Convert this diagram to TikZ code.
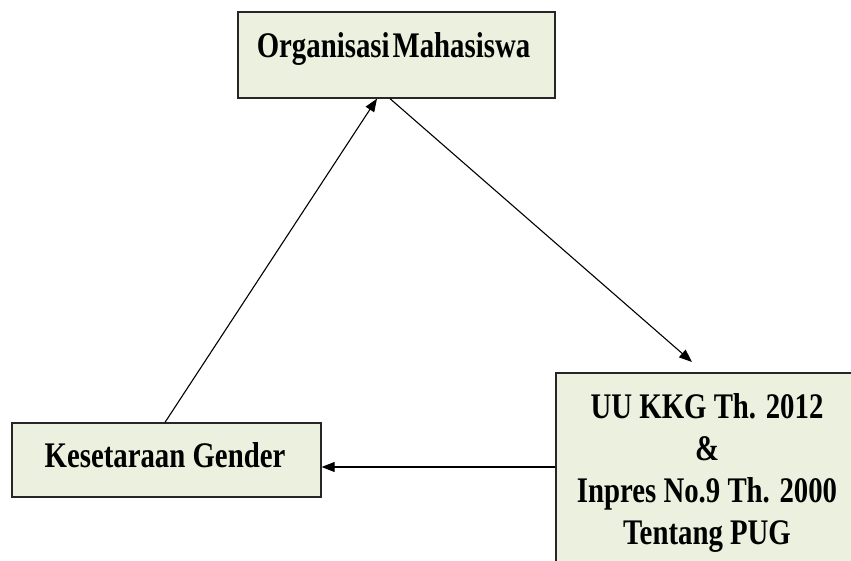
\documentclass[tikz,border=0pt]{standalone}
\usepackage{fontspec}
\newfontfamily\bt{Liberation Serif}[FakeStretch=0.8]
\usetikzlibrary{arrows.meta}
\definecolor{boxfill}{RGB}{235,241,222}
\begin{document}
\begin{tikzpicture}[x=1pt,y=-1pt,
  box/.style={draw=black!85, line width=1.3pt, fill=boxfill, inner sep=0pt},
  lbl/.style={font=\bt\bfseries\fontsize{36}{42}\selectfont, inner sep=0pt, align=center},
  arr/.style={line width=1.1pt, -{Triangle[length=13pt,width=10pt]}}]
\useasboundingbox (0,0) rectangle (851,561);
\clip (0,0) rectangle (851,561);
\node[box, minimum width=317pt, minimum height=86pt] (om) at (396.5,55) {};
\node[box, minimum width=309pt, minimum height=74pt] (kg) at (166.5,460) {};
\node[box, minimum width=360pt, minimum height=230pt] (uu) at (736,488) {};
\node[lbl, anchor=base] (tom) at (393.5,58) {Organisasi\hspace{3pt}Mahasiswa};
\node[lbl, anchor=base] (tkg) at (165,467) {Kesetaraan Gender};
\node[lbl, anchor=north] (tuu) at (707,393) {UU KKG Th. 2012\\ \&\\ Inpres No.9 Th. 2000\\ Tentang PUG};
\coordinate (tip) at (692,362);
\draw[arr] ([xshift=-1.5pt]kg.north) -- ([xshift=-19.5pt]om.south);
\draw[arr] ([xshift=-6.5pt]om.south) -- (tip);
\draw[arr] ([yshift=21pt]uu.west) -- ([yshift=21pt]uu.west -| kg.east);
\end{tikzpicture}
\end{document}
